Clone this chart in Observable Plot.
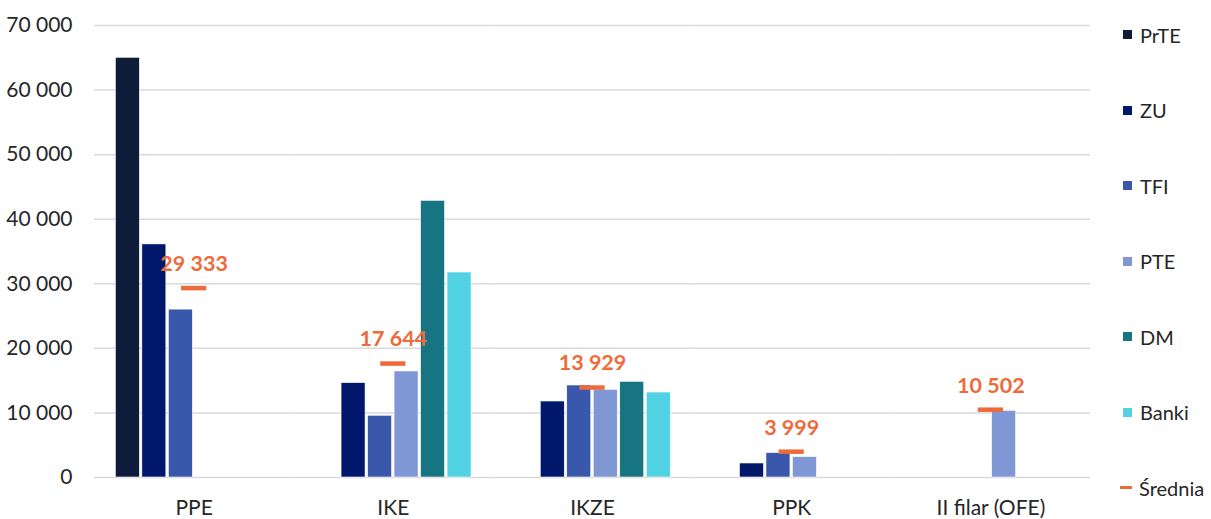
<!DOCTYPE html>
<html>
<head>
<meta charset="utf-8">
<script src="https://cdn.jsdelivr.net/npm/d3@7"></script>
<script src="https://cdn.jsdelivr.net/npm/@observablehq/plot@0.6"></script>
<style>
  html, body { margin: 0; padding: 0; background: #fff; }
  #wrap { position: relative; width: 1211px; height: 519px; font-family: Lato, "Open Sans", sans-serif; color: #262626; }
  #legend { position: absolute; left: 1120px; top: -3px; }
  .item { height: 75.5px; display: flex; align-items: center; font-size: 20px; }
  .sw { width: 9px; height: 9px; margin: 0 8px 0 3px; }
  .dash { width: 12px; height: 3px; margin: 0 7px 0 0; }
</style>
</head>
<body>
<div id="wrap"><div id="chart"></div><div id="legend"></div></div>
<script>
const categories = ["PPE", "IKE", "IKZE", "PPK", "II filar (OFE)"];
const series = ["PrTE", "ZU", "TFI", "PTE", "DM", "Banki"];
const seriesColors = ["#0e1c3c", "#00186c", "#3957ab", "#7f97d5", "#167581", "#50d2e3"];
const meanLabel = "Średnia";
const meanColor = "#ef6a3a";

const prte  = [65000, null, null, null, null];
const zu    = [36100, 14620, 11770, 2170, null];
const tfi   = [26000, 9560, 14250, 3780, null];
const pte   = [null, 16420, 13580, 3160, 10330];
const dm    = [null, 42850, 14820, null, null];
const banki = [null, 31750, 13160, null, null];
const srednia = [29333, 17644, 13929, 3999, 10502];

const yTicks = [0, 10000, 20000, 30000, 40000, 50000, 60000, 70000];

const seriesValues = [prte, zu, tfi, pte, dm, banki];
const rows = [];
series.forEach((s, i) => categories.forEach((c, j) => {
  const v = seriesValues[i][j];
  if (v != null) rows.push({category: c, series: s, value: v});
}));
const means = categories.map((c, j) => ({category: c, value: srednia[j]}));

const fmt = d => d3.format(",")(d).replace(/,/g, "\u00A0");

const chart = Plot.plot({
  width: 1100,
  height: 519,
  marginTop: 25,
  marginBottom: 42,
  marginLeft: 94,
  marginRight: 10,
  style: {fontFamily: "Lato, 'Open Sans', sans-serif", fontSize: "21px", color: "#262626", background: "white"},
  fx: {domain: categories, padding: 0, round: false, label: null, axis: "bottom", tickSize: 0, tickPadding: 23},
  x: {domain: series, paddingInner: 0.094, paddingOuter: 0.806, round: false, axis: null},
  y: {domain: [0, 70000], ticks: yTicks, tickFormat: fmt, tickSize: 0, tickPadding: 22, label: null},
  color: {domain: series, range: seriesColors},
  marks: [
    Plot.ruleY(yTicks, {stroke: "#d9d9d9", strokeWidth: 1.5}),
    Plot.barY(rows, {fx: "category", x: "series", y: "value", fill: "series", stroke: "white", strokeWidth: 0.6}),
    Plot.tickY(means, {fx: "category", y: "value", stroke: meanColor, strokeWidth: 4.5, insetLeft: 87, insetRight: 87}),
    Plot.text(means, {fx: "category", y: "value", text: d => fmt(d.value), dy: -24, fill: meanColor, fontWeight: "bold", fontSize: 21.5})
  ]
});
document.getElementById("chart").appendChild(chart);

const legend = document.getElementById("legend");
series.forEach((s, i) => {
  const it = document.createElement("div");
  it.className = "item";
  it.innerHTML = `<span class="sw" style="background:${seriesColors[i]}"></span><span>${s}</span>`;
  legend.appendChild(it);
});
const mi = document.createElement("div");
mi.className = "item";
mi.innerHTML = `<span class="dash" style="background:${meanColor}"></span><span>${meanLabel}</span>`;
legend.appendChild(mi);
</script>
</body>
</html>
